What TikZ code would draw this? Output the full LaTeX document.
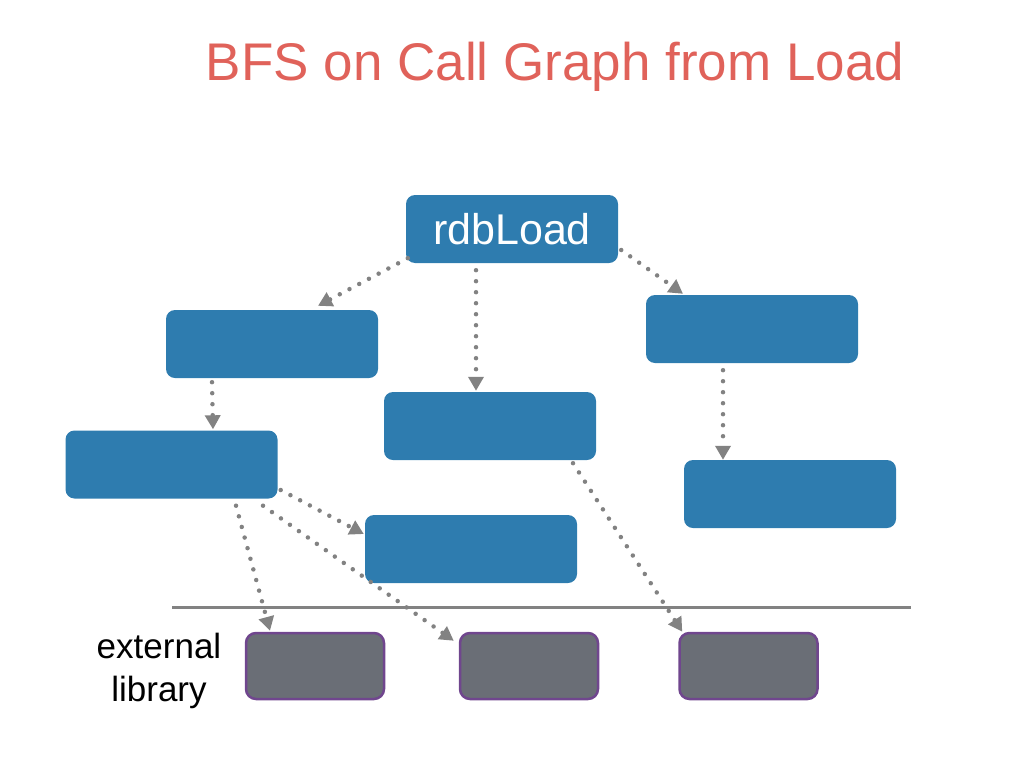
\documentclass[tikz,border=0pt]{standalone}
\usepackage{fontspec}
\setmainfont{Liberation Sans}
\usetikzlibrary{arrows.meta,calc}
\definecolor{boxblue}{RGB}{46,124,175}
\definecolor{libgray}{RGB}{106,110,118}
\definecolor{libpurple}{RGB}{112,70,142}
\definecolor{titlered}{RGB}{224,98,90}
\definecolor{arrgray}{RGB}{130,130,130}
\tikzset{
  fnbox/.style={fill=boxblue, rounded corners=9pt, minimum width=212pt, minimum height=68pt, inner sep=0pt, text=white},
  libbox/.style={fill=libgray, draw=libpurple, line width=2.5pt, rounded corners=10pt, minimum width=138pt, minimum height=66pt, inner sep=0pt},
  callarrow/.style={draw=arrgray, line width=4.5pt, line cap=round, dash pattern=on 0pt off 11pt, -{Triangle[length=14pt,width=15pt,fill=arrgray]}},
}
\begin{document}
\begin{tikzpicture}[x=1pt,y=-1pt]
\useasboundingbox (0,0) rectangle (1024,768);
\node[text=titlered, font=\fontsize{53}{60}\selectfont, anchor=base] (title) at (555,81) {BFS on Call Graph from Load};
\node[fnbox, font=\fontsize{43}{48}\selectfont] (r) at (512,229) {rdbLoad};
\node[fnbox] (b1) at (272,344) {};
\node[fnbox] (b2) at (752,329) {};
\node[fnbox] (b3) at (490,426) {};
\node[fnbox] (b4) at (171.5,464.5) {};
\node[fnbox] (b5) at (790,494) {};
\node[fnbox] (b6) at (471,549) {};
\node[libbox] (g1) at (315,666) {};
\node[libbox] (g2) at (529,666) {};
\node[libbox] (g3) at (748.5,666) {};
\coordinate (sepL) at (172,607);
\coordinate (sepR) at (911,607);
\draw[arrgray, line width=3pt] (sepL) -- (sepR);
\node[align=center, font=\fontsize{35}{43}\selectfont] (ext) at (159,671) {external\\library};
% connectors
\draw[callarrow] ($(r.south west)+(2,-5)$) -- ($(b1.north)+(46,-4)$);
\draw[callarrow] ($(r.south)+(-36,7)$) -- ($(b3.north)+(-14,-1)$);
\draw[callarrow] ($(r.east)+(3,21)$) -- ($(b2.north)+(-69,-1)$);
\draw[callarrow] ($(b1.south)+(-60,4)$) -- ($(b4.north)+(41.5,-1)$);
\draw[callarrow] ($(b2.south)+(-29,7)$) -- ($(b5.north)+(-67,0)$);
\draw[callarrow] ($(b4.east)+(3,25.5)$) -- ($(b6.west)+(-1,-15)$);
\draw[callarrow] ($(b4.south)+(64.5,7)$) -- ($(g1.north)+(-45,-1)$);
\draw[callarrow] ($(b4.south)+(91.5,7)$) -- ($(g2.north west)+(-5,9)$);
\draw[callarrow] ($(b3.south)+(83,3)$) -- ($(g3.north west)+(4,0)$);
\end{tikzpicture}
\end{document}
